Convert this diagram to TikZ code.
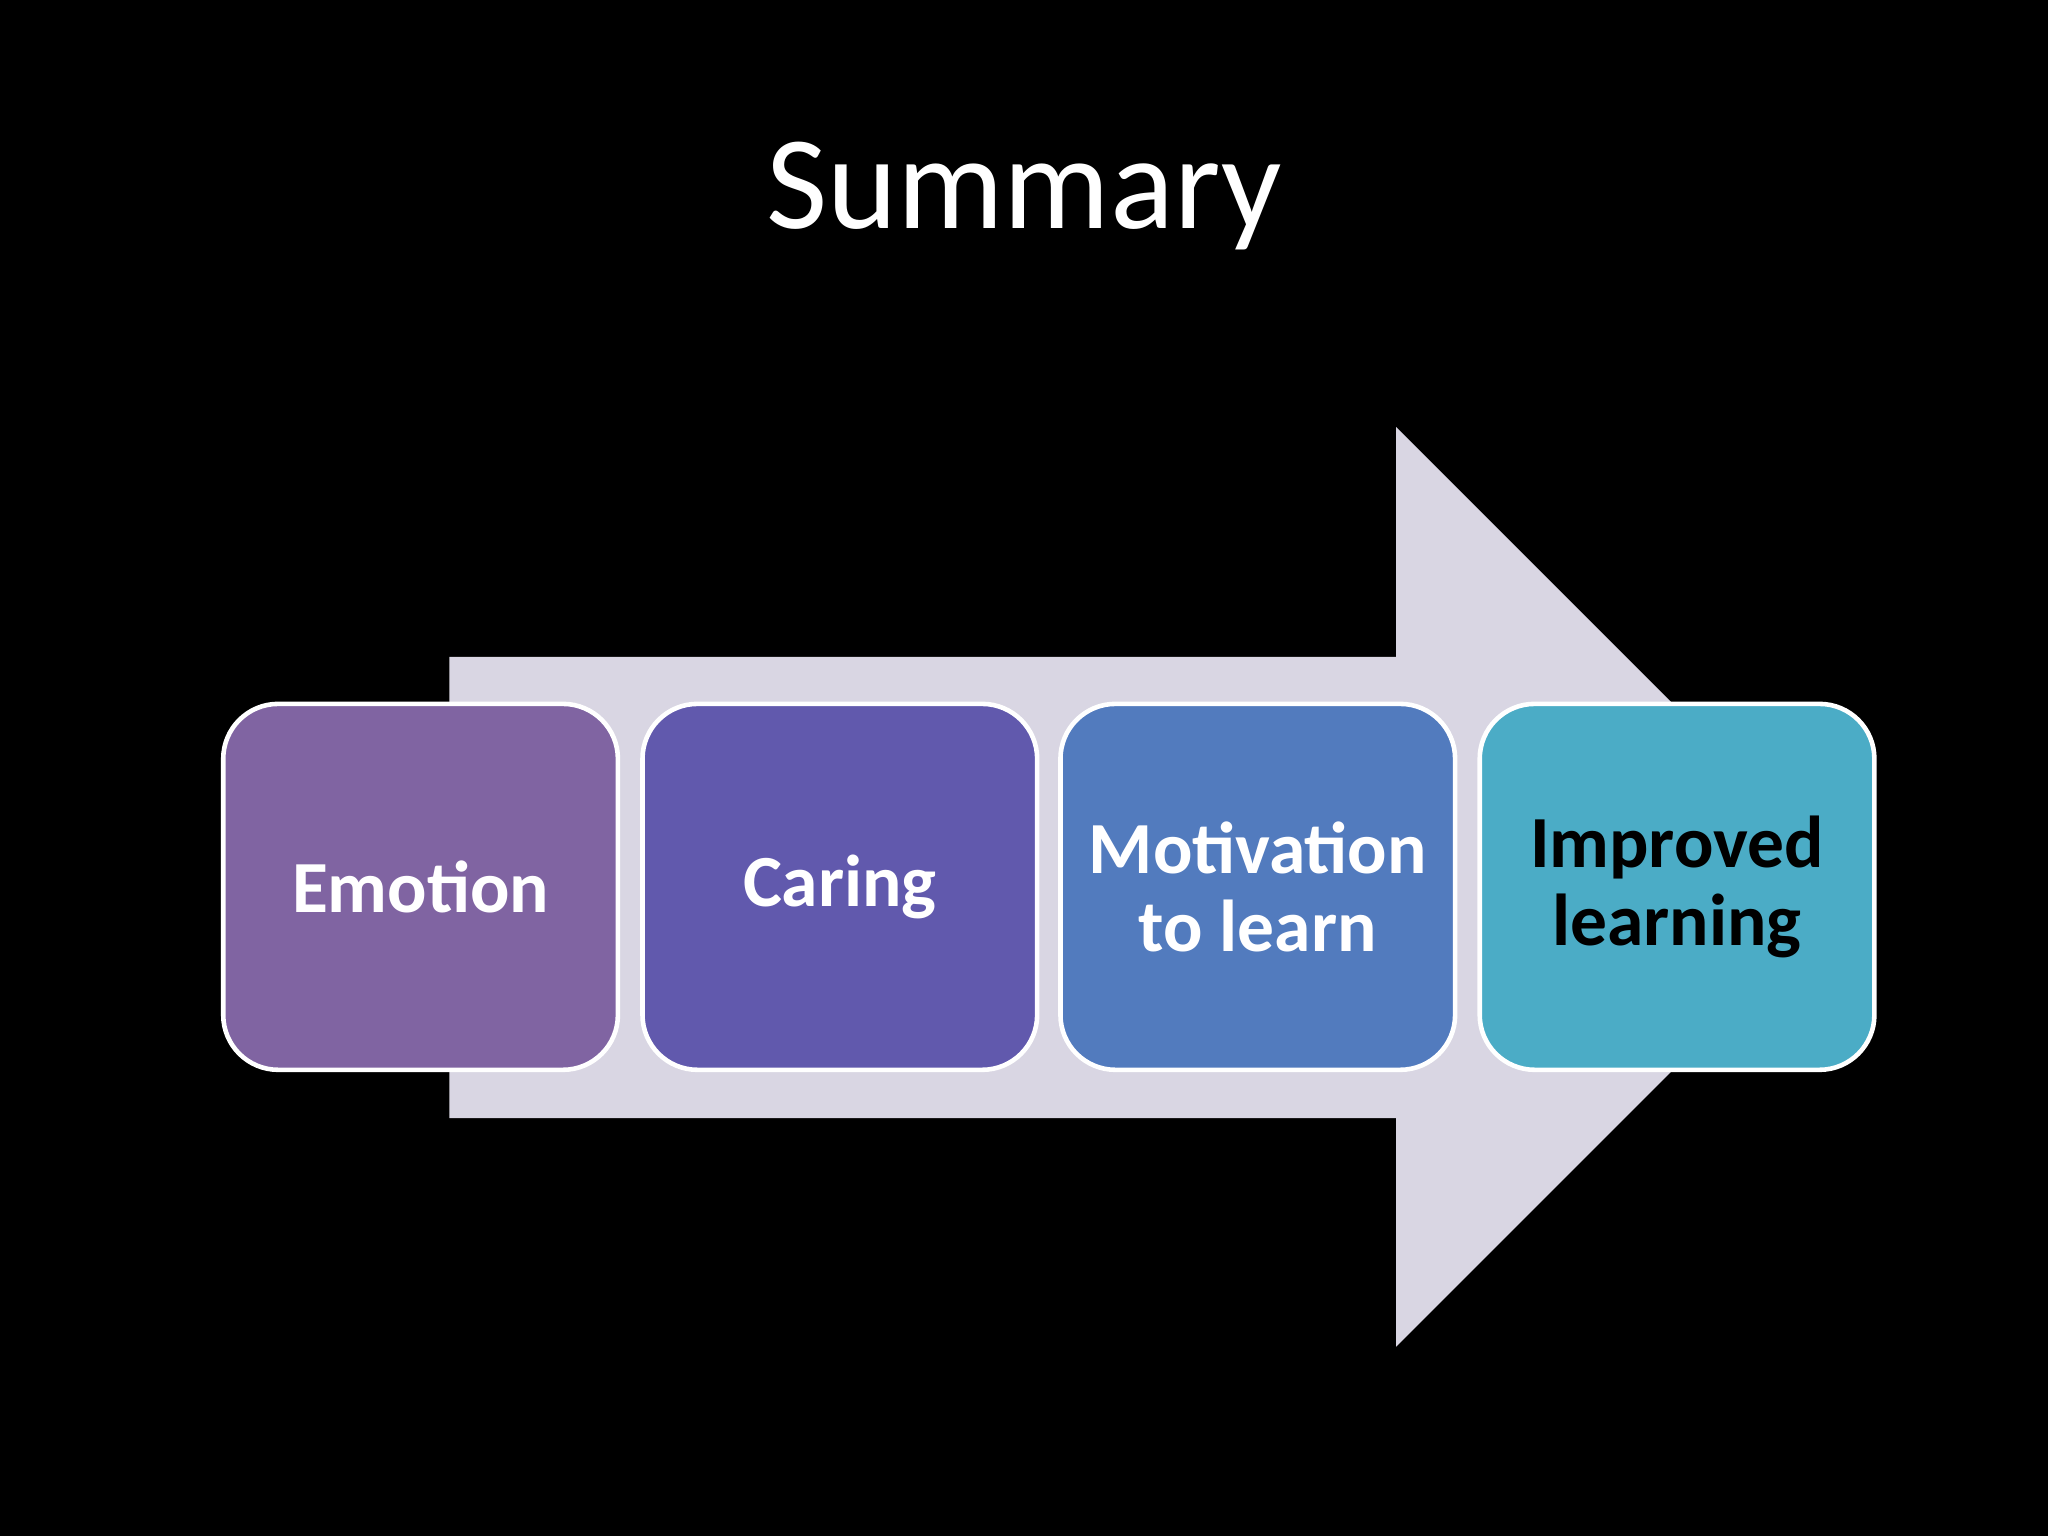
\documentclass[tikz,border=0pt]{standalone}
\usepackage{fontspec}
\setmainfont{Carlito}
\begin{document}
\begin{tikzpicture}[x=0.01cm,y=-0.01cm,
  stepbox/.style={draw=white,line width=1pt,rounded corners=0.42cm,minimum width=3.02cm,minimum height=2.8cm,align=center,font=\bfseries\fontsize{16}{17}\selectfont,text=white}]
\definecolor{c1}{HTML}{8064A2}
\definecolor{c2}{HTML}{6159AD}
\definecolor{c3}{HTML}{527BBE}
\definecolor{c4}{HTML}{4BACC6}
\definecolor{arr}{HTML}{D9D6E3}
\fill[black] (0,0) rectangle (1568,1176);
\node[text=white,font=\fontsize{29}{30}\selectfont] (title) at (784,150) {Summary};
\fill[arr] (344,503) -- (1069,503) -- (1069,327) -- (1421,679) -- (1069,1031) -- (1069,856) -- (344,856) -- cycle;
\node[stepbox,fill=c1] (a) at (322,679) {Emotion};
\node[stepbox,fill=c2] (b) at (643,679) {Caring};
\node[stepbox,fill=c3] (c) at (963,679) {Motivation\\to learn};
\node[stepbox,fill=c4,text=black] (d) at (1284,679) {Improved\\learning};
\end{tikzpicture}
\end{document}
